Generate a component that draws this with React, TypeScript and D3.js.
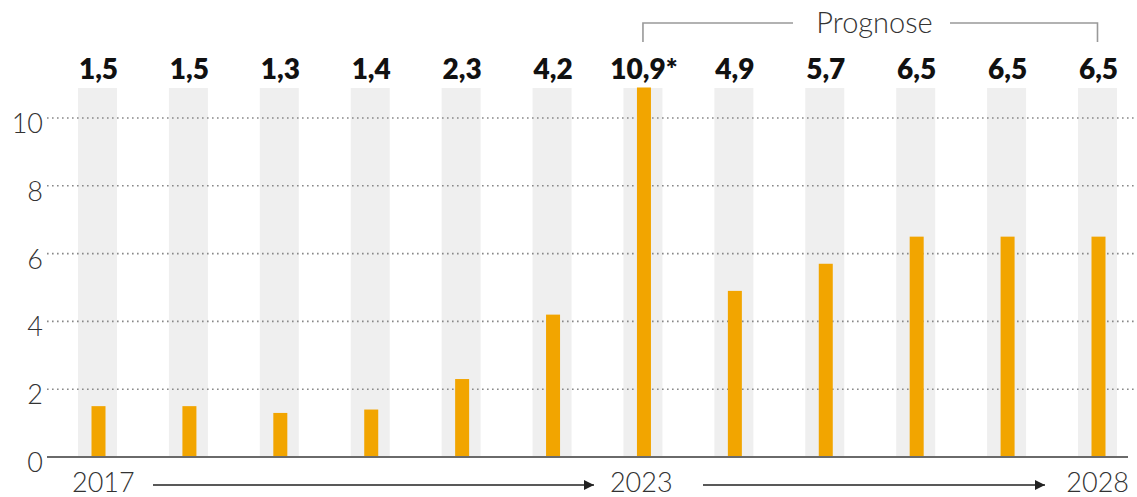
import React from "react";
import * as d3 from "d3";

const years = ["2017", "2018", "2019", "2020", "2021", "2022", "2023", "2024", "2025", "2026", "2027", "2028"];
const values = [1.5, 1.5, 1.3, 1.4, 2.3, 4.2, 10.9, 4.9, 5.7, 6.5, 6.5, 6.5];
const valueLabels = ["1,5", "1,5", "1,3", "1,4", "2,3", "4,2", "10,9*", "4,9", "5,7", "6,5", "6,5", "6,5"];
const yTicks = [0, 2, 4, 6, 8, 10];
const axisYears = ["2017", "2023", "2028"];
const prognoseLabel = "Prognose";

const W = 1137;
const H = 497;
const FONT = "Lato, 'Noto Sans', sans-serif";
const ORANGE = "#F2A500";
const BAND = "#EFEFEF";

export default function App() {
  const x = d3.scalePoint<string>().domain(years).range([97.5, 1097.5]);
  const y = d3.scaleLinear().domain([0, 10]).range([457, 118]);
  const bandW = 39;
  const barW = 14;
  const bandTop = 88;

  const xa = x("2023")!;
  const xb = x("2028")!;

  return (
    <div style={{ position: "fixed", left: 0, top: 0 }}>
      <svg width={W} height={H} style={{ display: "block", background: "#fff" }}>
        <defs>
          <marker id="arr" viewBox="0 0 10 10" refX="10" refY="5" markerWidth="10" markerHeight="10" markerUnits="userSpaceOnUse" orient="auto">
            <path d="M0,0 L10,5 L0,10 z" fill="#222" />
          </marker>
        </defs>
        {years.map((yr) => (
          <rect key={"b" + yr} x={x(yr)! - bandW / 2} y={bandTop} width={bandW} height={y(0) - bandTop} fill={BAND} />
        ))}
        {yTicks.filter((t) => t > 0).map((t) => (
          <line key={"g" + t} x1={47} x2={1134} y1={y(t)} y2={y(t)} stroke="#888" strokeWidth={1.6} strokeDasharray="1.6 3.4" />
        ))}
        {years.map((yr, i) => (
          <rect key={"r" + yr} x={x(yr)! - barW / 2 + 1} y={y(values[i])} width={barW} height={y(0) - y(values[i])} fill={ORANGE} />
        ))}
        <line x1={47} x2={1128} y1={y(0)} y2={y(0)} stroke="#6a6a6a" strokeWidth={2} />
        {yTicks.map((t) => (
          <text key={"t" + t} x={43} y={y(t) + 15} textAnchor="end" fontFamily={FONT} fontWeight={300} fontSize={27} fill="#333">
            {t}
          </text>
        ))}
        {years.map((yr, i) => (
          <text key={"v" + yr} x={x(yr)! + 1} y={79} textAnchor="middle" fontFamily={FONT} fontWeight={800} fontSize={28} fill="#111">
            {valueLabels[i]}
          </text>
        ))}
        <path d={`M${xa},42 V23 H793`} fill="none" stroke="#999" strokeWidth={1.6} />
        <path d={`M950,23 H${xb} V42`} fill="none" stroke="#999" strokeWidth={1.6} />
        <text x={(812 + 937) / 2} y={33} textAnchor="middle" fontFamily={FONT} fontWeight={300} fontSize={29} fill="#333">
          {prognoseLabel}
        </text>
        <text x={72} y={492} fontFamily={FONT} fontWeight={300} fontSize={27} fill="#333">{axisYears[0]}</text>
        <line x1={153} x2={594} y1={485} y2={485} stroke="#222" strokeWidth={1.3} markerEnd="url(#arr)" />
        <text x={xa - 33} y={492} fontFamily={FONT} fontWeight={300} fontSize={27} fill="#333">{axisYears[1]}</text>
        <line x1={703} x2={1045} y1={485} y2={485} stroke="#222" strokeWidth={1.3} markerEnd="url(#arr)" />
        <text x={1129} y={492} textAnchor="end" fontFamily={FONT} fontWeight={300} fontSize={27} fill="#333">{axisYears[2]}</text>
      </svg>
    </div>
  );
}
